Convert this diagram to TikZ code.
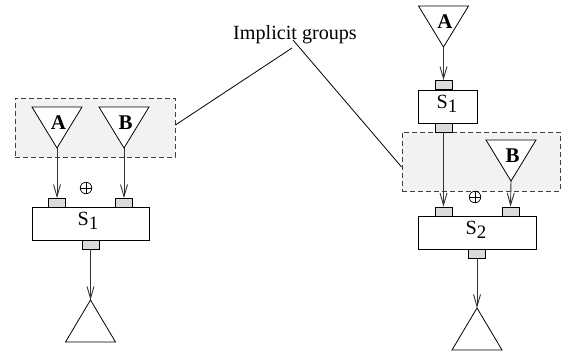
\documentclass[tikz,border=0pt]{standalone}
\usepackage{fontspec}
\setmainfont{Liberation Serif}
\usetikzlibrary{arrows.meta}

% stage label with a lowered index
\newcommand{\stagelabel}[2]{#1\raisebox{-0.42ex}{\fontsize{19}{19}\selectfont #2}}
% source triangle: apex name, centre x, top y, letter
\newcommand{\srctri}[4]{%
	\draw[fill=white] (#2-25,#3) -- (#2+25,#3) -- (#2,#3+41) coordinate (#1) -- cycle;
	\node[letter] (#1txt) at (#2+1.5,#3+16) {#4};}
% sink triangle: apex name, centre x, apex y
\newcommand{\sinktri}[3]{%
	\draw (#2,#3) coordinate (#1) -- (#2+25,#3+42) -- (#2-25,#3+42) -- cycle;}
% plus sign in a circle
\newcommand{\joinmark}[3]{%
	\node[circle, draw, minimum size=11.5bp, inner sep=0pt, line width=0.7bp] (#1) at (#2,#3) {};
	\draw[line width=0.7bp] (#1.north) -- (#1.south) (#1.west) -- (#1.east);}

\begin{document}
\begin{tikzpicture}[x=1bp,y=-1bp, line width=0.8bp,
			font=\fontsize{20.2}{22}\selectfont]
	\tikzstyle{port}=[draw, fill=gray!28, minimum width=17bp, minimum height=9bp, inner sep=0pt]
	\tikzstyle{stage}=[draw, fill=white, minimum height=33bp, inner sep=0pt,
		font=\fontsize{21}{22}\selectfont]
	\tikzstyle{group}=[draw=black!75, dash pattern=on 5bp off 3bp, fill=gray!10, inner sep=0pt]
	\tikzstyle{letter}=[font=\fontsize{21}{22}\selectfont\bfseries, inner sep=0pt]
	\tikzstyle{flow}=[draw=black!80, line width=0.9bp, -{Straight Barb[length=12bp,width=7bp]}]

	\useasboundingbox (0,0) rectangle (561,352);

	% left picture
	\node[group, minimum width=160bp, minimum height=59bp] (lgrp) at (95,127.5) {};
	\srctri{lA}{57}{107}{A}
	\srctri{lB}{124}{107}{B}
	\node[stage, minimum width=117bp] (lS) at (90.5,223.5) {};
	\node (lStxt) at (88,221) {\stagelabel{S}{1}};
	\node[port] (lpA) at (57,203) {};
	\node[port] (lpB) at (124,203) {};
	\node[port] (lpO) at (90.5,244.5) {};
	\joinmark{lplus}{86}{188}
	\sinktri{lOut}{90.5}{300}
	\draw[flow] (lA) -- (lpA.north);
	\draw[flow] (lB) -- (lpB.north);
	\draw[flow] (lpO.south) -- (lOut);

	% right picture
	\srctri{rA}{443.5}{6}{A}
	\node[stage, minimum width=59bp] (rS1) at (447.5,106.5) {};
	\node (rS1txt) at (447,104) {\stagelabel{S}{1}};
	\node[port] (rp1) at (443.5,85) {};
	\node[group, minimum width=158bp, minimum height=59bp] (rgrp) at (481,161.5) {};
	\node[port] (rp1o) at (443.5,127.5) {};
	\srctri{rB}{511}{140}{B}
	\node[stage, minimum width=118bp] (rS2) at (477,232.5) {};
	\node (rS2txt) at (476,230) {\stagelabel{S}{2}};
	\node[port] (rpA) at (443.5,211.5) {};
	\node[port] (rpB) at (510.5,211.5) {};
	\node[port] (rpO) at (477,253.5) {};
	\joinmark{rplus}{475}{197}
	\sinktri{rOut}{477}{308}
	\draw[flow] (rA) -- (rp1.north);
	\draw[flow] (rp1o.south) -- (rpA.north);
	\draw[flow] (rB) -- (rpB.north);
	\draw[flow] (rpO.south) -- (rOut);

	% caption with pointers
	\node (cap) at (295,35) {Implicit groups};
	\coordinate (capL) at (292,48);
	\coordinate (capR) at (293,40);
	\draw (capL) -- ([yshift=2.5bp]lgrp.east);
	\draw (capR) -- ([yshift=-5.5bp]rgrp.west);
\end{tikzpicture}
\end{document}
